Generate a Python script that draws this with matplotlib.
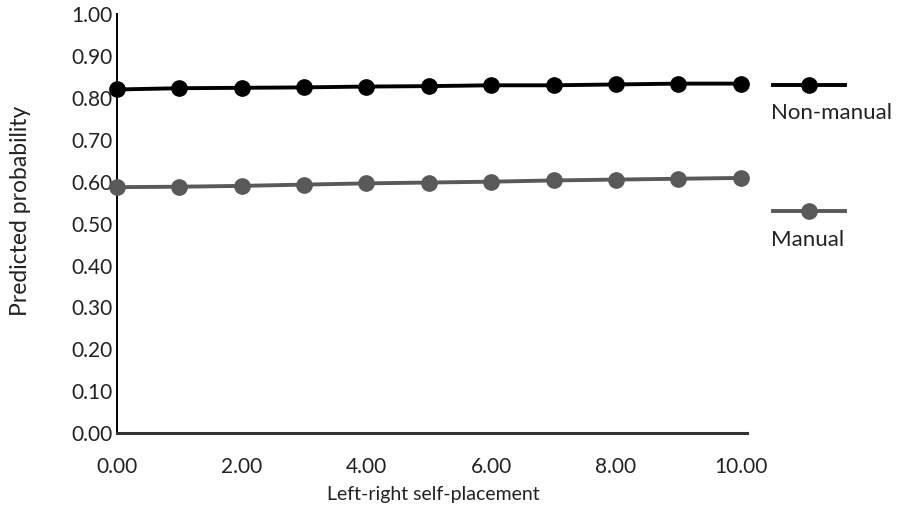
import matplotlib.pyplot as plt
from matplotlib.lines import Line2D

plt.rcParams['font.family'] = ['Lato', 'DejaVu Sans']

placement = [0, 1, 2, 3, 4, 5, 6, 7, 8, 9, 10]
non_manual = [0.820, 0.823, 0.824, 0.825, 0.827, 0.828, 0.830, 0.830, 0.832, 0.834, 0.834]
manual = [0.587, 0.588, 0.590, 0.593, 0.596, 0.598, 0.600, 0.603, 0.605, 0.607, 0.609]
yticks = [0.0, 0.1, 0.2, 0.3, 0.4, 0.5, 0.6, 0.7, 0.8, 0.9, 1.0]
xticks = [0, 2, 4, 6, 8, 10]

black = '#000000'
grey = '#595959'
txt = '#222222'

fig = plt.figure(figsize=(8.99, 5.20), dpi=100)
ax = fig.add_axes([0.130, 0.167, 0.701, 0.806])

ax.plot(placement, non_manual, color=black, lw=2.8, marker='o', ms=11, clip_on=False, zorder=3)
ax.plot(placement, manual, color=grey, lw=2.8, marker='o', ms=11, clip_on=False, zorder=3)

ax.set_xlim(0, 10.1)
ax.set_ylim(0, 1.0)
ax.set_yticks(yticks)
ax.set_yticklabels(['%.2f' % v for v in yticks])
ax.set_xticks(xticks)
ax.set_xticklabels(['%.2f' % v for v in xticks])
ax.tick_params(length=0, labelsize=15, colors=txt)
ax.tick_params(axis='x', pad=17)
ax.tick_params(axis='y', pad=3)

for s in ['top', 'right']:
    ax.spines[s].set_visible(False)
ax.spines['left'].set_linewidth(1.4)
ax.spines['bottom'].set_linewidth(2.2)
ax.spines['bottom'].set_color('#333333')

ax.set_xlabel('Left-right self-placement', fontsize=14, color=txt)
ax.set_ylabel('Predicted probability', fontsize=16.5, color=txt)
ax.xaxis.set_label_coords(0.502, -0.126)
ax.yaxis.set_label_coords(-0.137, 0.53)

# legend drawn by hand, text under each sample line
W, H = 899.0, 520.0
for y_line, y_text, col, name in [(85, 113, black, 'Non-manual'), (211, 240, grey, 'Manual')]:
    fig.add_artist(Line2D([773 / W, 845 / W], [1 - y_line / H, 1 - y_line / H],
                          color=col, lw=2.8))
    fig.add_artist(Line2D([809 / W], [1 - y_line / H], color=col, marker='o', ms=11))
    fig.text(771 / W, 1 - y_text / H, name, fontsize=16, va='center', ha='left', color=txt)

fig.savefig('out.png', dpi=100)
